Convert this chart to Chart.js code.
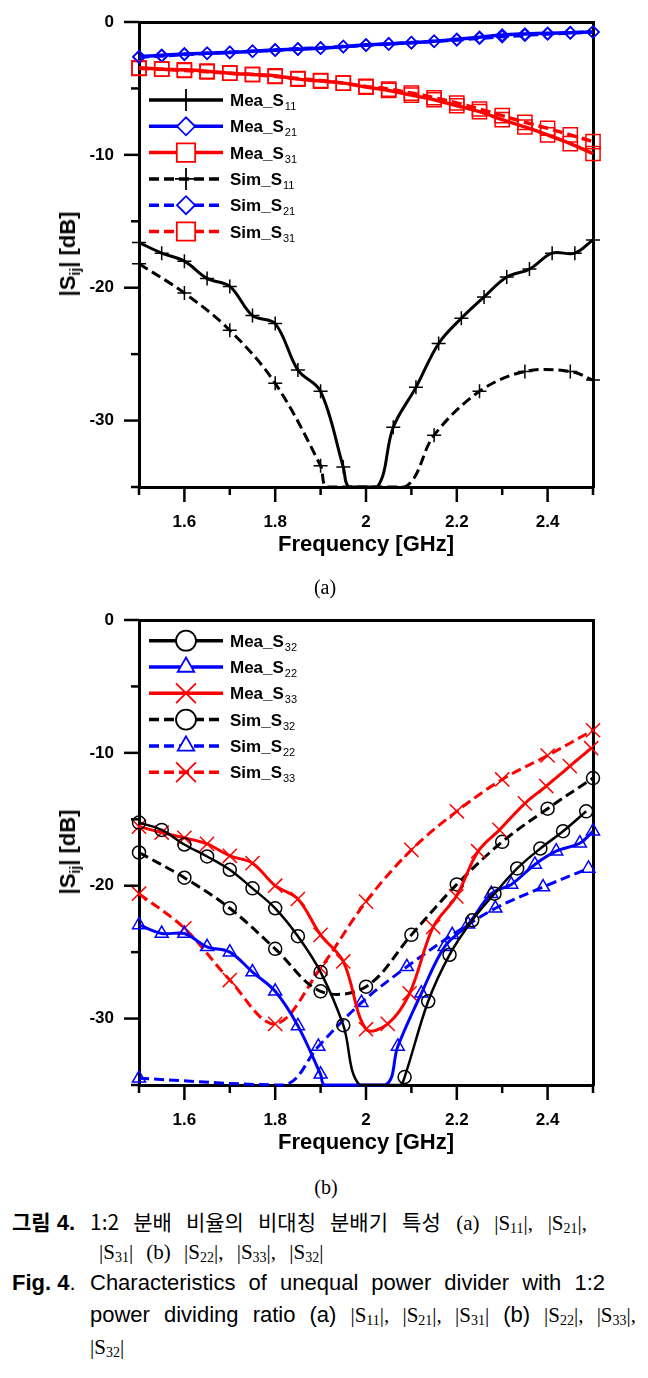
<!DOCTYPE html>
<html><head><meta charset="utf-8">
<script src="https://cdn.jsdelivr.net/npm/chart.js@4.4.1/dist/chart.umd.min.js"></script>
<style>
html,body{margin:0;padding:0;background:#fff;}
body{width:648px;height:1378px;position:relative;overflow:hidden;font-family:Arial,"Liberation Sans",sans-serif;color:#000;}
canvas{position:absolute;left:0;}
.ytitle{position:absolute;font:bold 22px Arial,"Liberation Sans",sans-serif;white-space:nowrap;transform:translate(-50%,-50%) rotate(-90deg);line-height:1;}
.ytitle sub{font-size:14px;vertical-align:-5px;line-height:0;}
.plab{position:absolute;font:20px "Liberation Serif","Times New Roman",serif;transform:translate(-50%,-50%);}
.ln{position:absolute;height:31px;line-height:31px;white-space:nowrap;font-size:22px;}
.just{text-align:justify;text-align-last:justify;white-space:normal;overflow:hidden;}
.kr{font-family:"Noto Sans CJK KR",sans-serif;font-size:21px;}
.tm{font-family:"Liberation Serif","Times New Roman",serif;font-size:21px;}
.tm sub{font-size:14px;vertical-align:-3px;line-height:0;}
.ar{font-family:Arial,"Liberation Sans",sans-serif;font-size:22px;}
b{font-weight:bold;}
</style>
</head><body>
<canvas id="ca" width="648" height="560" style="top:0px"></canvas>
<canvas id="cb" width="648" height="560" style="top:598px"></canvas>
<div class="ytitle" style="left:68px;top:254px">|S<sub>ij</sub>| [dB]</div>
<div class="ytitle" style="left:68px;top:852px">|S<sub>ij</sub>| [dB]</div>
<div class="plab" style="left:325px;top:587px">(a)</div>
<div class="plab" style="left:326px;top:1187px">(b)</div>

<div class="ln" style="left:12px;top:1206px"><b class="kr">그림</b> <b class="ar">4.</b></div>
<div class="ln just" style="left:90px;top:1206px;width:497px"><span class="kr">1:2 분배 비율의 비대칭 분배기 특성</span> <span class="tm">(a) |S<sub>11</sub>|, |S<sub>21</sub>|,</span></div>
<div class="ln" style="left:99px;top:1236px;word-spacing:8px"><span class="tm">|S<sub>31</sub>| (b) |S<sub>22</sub>|, |S<sub>33</sub>|, |S<sub>32</sub>|</span></div>
<div class="ln" style="left:12px;top:1267px"><b class="ar">Fig. 4</b><span class="ar">.</span></div>
<div class="ln just" style="left:90px;top:1267px;width:515px"><span class="ar">Characteristics of unequal power divider with 1:2</span></div>
<div class="ln just" style="left:90px;top:1299px;width:546px"><span class="ar">power dividing ratio (a)</span> <span class="tm">|S<sub>11</sub>|, |S<sub>21</sub>|, |S<sub>31</sub>|</span> <span class="ar">(b)</span> <span class="tm">|S<sub>22</sub>|, |S<sub>33</sub>|,</span></div>
<div class="ln" style="left:90px;top:1331px"><span class="tm">|S<sub>32</sub>|</span></div>

<script>
// ---------- tick labels ----------
const xTickValues = [1.6, 1.8, 2.0, 2.2, 2.4];
const yTickValues = [0, -10, -20, -30];

// ---------- chart (a) ----------
const meaS11_f = [1.5,1.55,1.6,1.65,1.7,1.75,1.8,1.85,1.9,1.95,1.963,2.025,2.06,2.11,2.16,2.21,2.26,2.31,2.36,2.41,2.46,2.5];
const meaS11   = [-16.6,-17.4,-18.0,-19.3,-19.9,-22.1,-22.7,-26.2,-27.8,-33.5,-35,-35,-30.5,-27.5,-24.2,-22.3,-20.7,-19.2,-18.6,-17.4,-17.4,-16.4];
const f21 = [1.5,1.55,1.6,1.65,1.7,1.75,1.8,1.85,1.9,1.95,2.0,2.05,2.1,2.15,2.2,2.25,2.3,2.35,2.4,2.45,2.5];
const meaS21 = [-2.6,-2.5,-2.4,-2.35,-2.3,-2.2,-2.1,-2.05,-1.97,-1.85,-1.72,-1.65,-1.56,-1.45,-1.3,-1.15,-0.98,-0.9,-0.85,-0.8,-0.75];
const meaS31 = [-3.45,-3.55,-3.6,-3.7,-3.85,-3.95,-4.05,-4.3,-4.45,-4.6,-4.9,-5.15,-5.5,-5.85,-6.3,-6.75,-7.35,-7.9,-8.5,-9.15,-9.9];
const simS11_f = [1.5,1.6,1.7,1.8,1.9,1.915,2.085,2.15,2.25,2.35,2.45,2.5];
const simS11   = [-18.2,-20.4,-23.2,-27.2,-33.4,-35,-35,-31.1,-27.8,-26.3,-26.3,-26.95];
const simS21 = [-2.65,-2.55,-2.45,-2.35,-2.28,-2.2,-2.12,-2.02,-1.95,-1.85,-1.75,-1.65,-1.55,-1.45,-1.35,-1.22,-1.1,-1.0,-0.9,-0.82,-0.75];
const simS31 = [-3.5,-3.55,-3.65,-3.75,-3.85,-3.95,-4.1,-4.25,-4.4,-4.6,-4.85,-5.05,-5.35,-5.7,-6.1,-6.55,-7.05,-7.55,-8.0,-8.5,-9.0];

// ---------- chart (b) ----------
const meaS32_f = [1.5,1.55,1.6,1.65,1.7,1.75,1.8,1.85,1.9,1.95,1.986,2.075,2.085,2.137,2.184,2.234,2.283,2.333,2.384,2.434,2.485];
const meaS32   = [-15.25,-15.8,-16.9,-17.8,-18.8,-20.2,-21.7,-23.8,-26.5,-30.5,-35,-35,-34.4,-28.7,-25.2,-22.6,-20.6,-18.7,-17.2,-15.9,-14.4];
const meaS22_f = [1.5,1.55,1.6,1.65,1.7,1.75,1.8,1.85,1.9,1.909,2.043,2.07,2.122,2.173,2.225,2.276,2.32,2.372,2.419,2.471,2.5];
const meaS22   = [-22.95,-23.6,-23.6,-24.6,-25.0,-26.5,-27.95,-30.55,-34.2,-35,-35,-32.1,-28.1,-24.6,-22.9,-20.6,-19.9,-18.4,-17.4,-16.8,-15.9];
const meaS33_f = [1.5,1.55,1.6,1.65,1.7,1.75,1.8,1.85,1.9,1.95,2.0,2.048,2.096,2.148,2.199,2.247,2.294,2.35,2.397,2.449,2.496];
const meaS33   = [-15.55,-16.0,-16.4,-16.85,-17.75,-18.3,-20.0,-21.0,-23.7,-25.7,-30.8,-30.4,-28.1,-23.1,-20.8,-17.4,-15.8,-13.8,-12.5,-11.0,-9.65];
const simS32_f = [1.5,1.6,1.7,1.8,1.9,2.0,2.1,2.2,2.3,2.4,2.5];
const simS32   = [-17.5,-19.4,-21.7,-24.75,-27.95,-27.6,-23.7,-19.9,-16.7,-14.2,-11.9];
const simS22_f = [1.5,1.82,1.895,1.99,2.09,2.19,2.285,2.39,2.49];
const simS22   = [-34.5,-35,-32.1,-28.8,-26.1,-23.7,-21.7,-20.1,-18.7];
const simS33_f = [1.5,1.6,1.7,1.8,1.9,2.0,2.1,2.2,2.3,2.4,2.5];
const simS33   = [-20.6,-23.2,-27.1,-30.4,-26.2,-21.2,-17.3,-14.4,-12.0,-10.2,-8.3];

// ---------- styling ----------
const BLACK = '#000000', BLUE = '#0000ff', RED = '#ff0000';
const FONT = 'Arial, "Liberation Sans", sans-serif';
const plotR = {cross:7, rectRot:6, rect:10, circle:6.5, triangle:7.5, crossRot:10};
const legR  = {cross:11, rectRot:9, rect:13, circle:10, triangle:9.5, crossRot:14};
const legendTops = {ca: 78, cb: 20.7};
const AXIS_BORDER = {display: true, width: 3, color: '#000000'};

function series(label, f, v, color, dashed, style, lw) {
  const r = plotR[style];
  return {
    label,
    data: f.map((x, i) => ({x, y: v[i]})),
    borderColor: color,
    backgroundColor: color,
    borderWidth: lw,
    borderDash: dashed ? [10, 5] : [],
    tension: 0.35,
    fill: false,
    pointStyle: style,
    pointBorderColor: color,
    pointBackgroundColor: 'rgba(0,0,0,0)',
    pointBorderWidth: 1.5,
    pointRadius: c => (c.raw && c.raw.y <= -35) ? 0 : r,
    pointHoverRadius: 0,
    clip: {left: 12, right: 12, top: 12, bottom: 2}
  };
}

function seg(ctx, x0, y0, x1, y1) {
  ctx.beginPath(); ctx.moveTo(x0, y0); ctx.lineTo(x1, y1); ctx.stroke();
}

function drawTicks(chart) {
  const ctx = chart.ctx, x = chart.scales.x, y = chart.scales.y;
  const L = x.getPixelForValue(x.min);
  const B = y.getPixelForValue(y.min);
  ctx.save();
  ctx.setLineDash([]);
  ctx.strokeStyle = '#000000';
  ctx.lineWidth = 2.5;
  for (let k = 0; k <= 10; k++) {
    const px = x.getPixelForValue(x.min + k * 0.1);
    const len = (k % 2 === 1) ? 15 : 8;
    seg(ctx, px, B, px, B + len);
  }
  for (let k = 0; k <= 7; k++) {
    const py = y.getPixelForValue(y.max - k * 5);
    const len = (k % 2 === 0 && k < 7) ? 15 : 8;
    seg(ctx, L, py, L - len, py);
  }
  ctx.restore();
}

function drawLegend(chart, top, gap) {
  const ctx = chart.ctx, a = chart.chartArea;
  chart.data.datasets.forEach((ds, i) => {
    const y = a.top + top + i * gap;
    const x0 = a.left + 10, x1 = a.left + 84, xm = (x0 + x1) / 2;
    ctx.save();
    ctx.strokeStyle = ds.borderColor;
    ctx.lineWidth = 3.5;
    ctx.setLineDash(ds.borderDash);
    seg(ctx, x0, y, x1, y);
    ctx.setLineDash([]);
    ctx.lineWidth = 1.8;
    ctx.fillStyle = '#fff';
    Chart.helpers.drawPoint(ctx, {pointStyle: ds.pointStyle, radius: legR[ds.pointStyle], rotation: 0, borderWidth: 1.8}, xm, y);
    const main = ds.label.slice(0, -2), sub = ds.label.slice(-2);
    ctx.fillStyle = '#000';
    ctx.textBaseline = 'alphabetic';
    ctx.font = 'bold 17px ' + FONT;
    const tx = a.left + 91;
    ctx.fillText(main, tx, y + 6);
    const w = ctx.measureText(main).width;
    ctx.font = '11px ' + FONT;
    ctx.fillText(sub, tx + w + 1, y + 10);
    ctx.restore();
  });
}

const decorPlugin = {
  id: 'decor',
  afterDraw(chart) {
    drawTicks(chart);
    drawLegend(chart, legendTops[chart.canvas.id], 26.3);
  }
};

function makeChart(id, datasets) {
  return new Chart(document.getElementById(id), {
    type: 'line',
    data: {datasets},
    options: {
      responsive: false,
      devicePixelRatio: 1,
      animation: false,
      events: [],
      layout: {padding: {left: 0, right: 55, top: 22, bottom: 0}},
      plugins: {
        legend: {display: false},
        tooltip: {enabled: false}
      },
      scales: {
        x: {
          type: 'linear', position: 'bottom', min: 1.5, max: 2.5,
          afterBuildTicks: s => { s.ticks = xTickValues.map(v => ({value: v})); },
          afterFit: s => { s.height = 73; s.paddingLeft = 0; s.paddingRight = 0; },
          grid: {display: false, drawTicks: false},
          border: AXIS_BORDER,
          ticks: {
            padding: 25, color: '#000', maxRotation: 0, autoSkip: false,
            font: {family: FONT, size: 17, weight: 'bold'},
            callback: v => String(+Number(v).toFixed(1))
          },
          title: {
            display: true, text: 'Frequency [GHz]', color: '#000',
            font: {family: FONT, size: 22, weight: 'bold'},
            padding: {top: 0, bottom: 2}
          }
        },
        xTop: {
          type: 'linear', position: 'top', min: 1.5, max: 2.5,
          afterFit: s => { s.height = 0; s.paddingLeft = 0; s.paddingRight = 0; },
          grid: {display: false, drawTicks: false},
          border: AXIS_BORDER,
          ticks: {display: false}
        },
        y: {
          type: 'linear', position: 'left', min: -35, max: 0,
          afterBuildTicks: s => { s.ticks = yTickValues.map(v => ({value: v})); },
          afterFit: s => { s.width = 139; s.paddingTop = 0; s.paddingBottom = 0; },
          grid: {display: false, drawTicks: false},
          border: AXIS_BORDER,
          ticks: {
            padding: 25, color: '#000', autoSkip: false,
            font: {family: FONT, size: 17, weight: 'bold'},
            callback: v => String(v)
          }
        },
        yRight: {
          type: 'linear', position: 'right', min: -35, max: 0,
          afterFit: s => { s.width = 0; s.paddingTop = 0; s.paddingBottom = 0; },
          grid: {display: false, drawTicks: false},
          border: AXIS_BORDER,
          ticks: {display: false}
        }
      }
    },
    plugins: [decorPlugin]
  });
}

makeChart('ca', [
  series('Mea_S11', meaS11_f, meaS11, BLACK, false, 'cross', 3),
  series('Mea_S21', f21, meaS21, BLUE, false, 'rectRot', 3.5),
  series('Mea_S31', f21, meaS31, RED, false, 'rect', 3.5),
  series('Sim_S11', simS11_f, simS11, BLACK, true, 'cross', 3),
  series('Sim_S21', f21, simS21, BLUE, true, 'rectRot', 3.5),
  series('Sim_S31', f21, simS31, RED, true, 'rect', 3.5)
]);

makeChart('cb', [
  series('Mea_S32', meaS32_f, meaS32, BLACK, false, 'circle', 2.5),
  series('Mea_S22', meaS22_f, meaS22, BLUE, false, 'triangle', 3),
  series('Mea_S33', meaS33_f, meaS33, RED, false, 'crossRot', 3),
  series('Sim_S32', simS32_f, simS32, BLACK, true, 'circle', 3),
  series('Sim_S22', simS22_f, simS22, BLUE, true, 'triangle', 3),
  series('Sim_S33', simS33_f, simS33, RED, true, 'crossRot', 3)
]);
</script>
</body></html>
